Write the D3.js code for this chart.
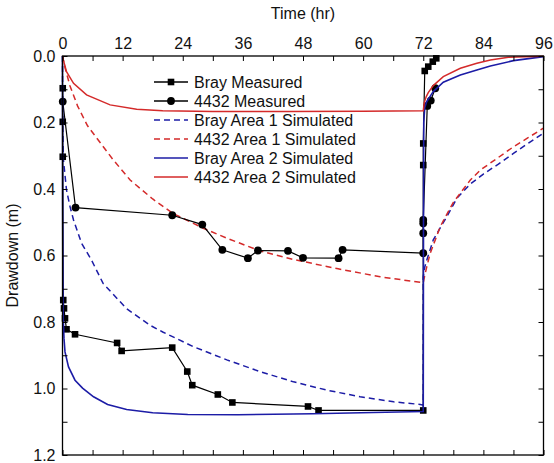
<!DOCTYPE html>
<html><head><meta charset="utf-8">
<script src="https://cdn.jsdelivr.net/npm/d3@7"></script>
<style>body{margin:0;background:#fff}svg{display:block}text{font-family:"Liberation Sans",Arial,sans-serif;fill:#111}</style>
</head><body><svg id="c" width="554" height="463"></svg>
<script>
// Data: [time (hr), drawdown (m)]
const xTicks = [0,12,24,36,48,60,72,84,96];
const yTicks = [0.0,0.2,0.4,0.6,0.8,1.0,1.2];
const seriesNames = ["Bray Measured","4432 Measured","Bray Area 1 Simulated","4432 Area 1 Simulated","Bray Area 2 Simulated","4432 Area 2 Simulated"];

const brayMeasured = [[0.05,0.097],[0.05,0.198],[0.05,0.303],[0.15,0.734],[0.3,0.759],[0.5,0.789],[0.8,0.822],[2.5,0.837],[10.9,0.863],[11.8,0.887],[21.9,0.877],[24.9,0.949],[25.9,0.99],[31.0,1.018],[33.9,1.042],[49.0,1.054],[51.1,1.066],[72.0,1.066],[72.0,0.328],[72.0,0.263],[72.3,0.045],[73.0,0.032],[73.9,0.017],[74.6,0.007]];
const m4432Measured = [[0.05,0.137],[2.6,0.456],[21.9,0.479],[27.9,0.507],[31.9,0.583],[37.0,0.608],[39.0,0.585],[45.0,0.586],[48.0,0.607],[55.1,0.608],[55.9,0.583],[72.0,0.593],[72.0,0.533],[72.0,0.503],[72.0,0.493],[72.8,0.150],[73.5,0.134],[74.4,0.097]];
const brayArea1 = [[0,0],[0.05,0.2],[0.17,0.31],[0.8,0.403],[1.5,0.453],[2.2,0.493],[3.8,0.563],[5.8,0.614],[8.1,0.684],[12.8,0.76],[17.5,0.81],[20,0.83],[26.1,0.874],[32.8,0.914],[39.4,0.949],[46.1,0.98],[52.8,1.005],[59.4,1.025],[66.1,1.04],[71.4,1.048],[72,1.05],[72,0.664],[72.3,0.635],[72.7,0.614],[74,0.553],[76.7,0.483],[78.7,0.428],[81.4,0.385],[84,0.355],[87,0.325],[90,0.293],[93,0.262],[96,0.232]];
const m4432Area1 = [[0,0],[0.5,0.035],[1.5,0.09],[3,0.15],[5,0.21],[8,0.27],[10,0.31],[13.5,0.373],[18,0.43],[22.1,0.474],[28.1,0.518],[32.8,0.548],[39.4,0.586],[46.1,0.612],[55,0.64],[63.4,0.664],[72,0.682],[72.3,0.66],[72.7,0.634],[73.4,0.593],[75.4,0.513],[78,0.44],[81.4,0.373],[83.4,0.343],[87,0.305],[90,0.273],[93,0.245],[96,0.217]];
const brayArea2 = [[0,0],[0.03,0.45],[0.08,0.68],[0.15,0.79],[0.3,0.85],[0.5,0.89],[1.2,0.935],[2.5,0.975],[4,0.999],[6.2,1.025],[9,1.048],[12.8,1.063],[18,1.073],[25,1.078],[35,1.079],[50,1.076],[62,1.072],[72,1.069],[72.05,0.5],[72.1,0.2],[72.3,0.155],[72.7,0.137],[74,0.107],[76,0.079],[79.4,0.057],[82.7,0.042],[85.4,0.03],[90,0.014],[96,0.002]];
const m4432Area2 = [[0,0],[0.17,0.012],[0.8,0.047],[2.2,0.082],[4.8,0.117],[9.5,0.147],[14.8,0.16],[20,0.165],[30,0.167],[45,0.167],[60,0.166],[72,0.165],[72.2,0.14],[72.6,0.122],[73,0.11],[74,0.089],[76,0.062],[79.4,0.037],[82.7,0.022],[85.4,0.012],[89,0.004],[96,0.001]];

(function(){
const svg = d3.select("#c");
const L=62.5, R=543.5, T=56, B=455;
const x = d3.scaleLinear().domain([0,96]).range([L,R]);
const y = d3.scaleLinear().domain([0,1.2]).range([T,B]);
const BLUE="#1c1ca6", RED="#d42a2a";
const FS="16px";

const line = d3.line().x(d=>x(d[0])).y(d=>y(d[1]));
const g = svg.append("g");

function path(data,color,dash,w){
  g.append("path").datum(data).attr("d",line).attr("fill","none")
   .attr("stroke",color).attr("stroke-width",w||1.5).attr("stroke-dasharray",dash||null);
}
path(brayArea1,BLUE,"6,4");
path(m4432Area1,RED,"6,4");
path(brayMeasured,"#000",null,1.2);
path(m4432Measured,"#000",null,1.2);
g.selectAll("rect.sq").data(brayMeasured).enter().append("rect").attr("class","sq")
 .attr("x",d=>x(d[0])-3.3).attr("y",d=>y(d[1])-3.3).attr("width",6.6).attr("height",6.6).attr("fill","#000");
g.selectAll("circle.ci").data(m4432Measured).enter().append("circle").attr("class","ci")
 .attr("cx",d=>x(d[0])).attr("cy",d=>y(d[1])).attr("r",3.9).attr("fill","#000");
path(brayArea2,BLUE,null,1.6);
path(m4432Area2,RED,null,1.5);

// axes
const axTop = d3.axisTop(x).tickValues(d3.range(0,97,6)).tickSize(-5).tickFormat(d=>xTicks.includes(d)?d:"");
const axBot = d3.axisBottom(x).tickValues(d3.range(0,97,6)).tickSize(-5).tickFormat("");
const axLeft = d3.axisLeft(y).tickValues(d3.range(0,13).map(i=>i/10)).tickSize(-5).tickFormat(d=>{const r=Math.round(d*10);return r%2===0?d3.format(".1f")(d):"";});
const axRight = d3.axisRight(y).tickValues(d3.range(0,13).map(i=>i/10)).tickSize(-5).tickFormat("");
function style(a){a.select(".domain").remove();a.selectAll("line").attr("stroke","#000").attr("stroke-width",1);a.selectAll("text").style("font-size",FS).attr("fill","#111");}
svg.append("g").attr("transform",`translate(0,${T})`).call(axTop).call(style).selectAll("text").attr("y",-7);
svg.append("g").attr("transform",`translate(0,${B})`).call(axBot).call(style);
svg.append("g").attr("transform",`translate(${L},0)`).call(axLeft).call(style).selectAll("text").attr("x",-7);
svg.append("g").attr("transform",`translate(${R},0)`).call(axRight).call(style);
svg.append("rect").attr("x",L).attr("y",T).attr("width",R-L).attr("height",B-T).attr("fill","none").attr("stroke","#000").attr("stroke-width",1.3);

svg.append("text").attr("x",(L+R)/2).attr("y",19).attr("text-anchor","middle").style("font-size",FS).text("Time (hr)");
svg.append("text").attr("transform",`translate(18,${(T+B)/2}) rotate(-90)`).attr("text-anchor","middle").style("font-size",FS).text("Drawdown (m)");

// legend
const styles = [
 {c:"#000",d:null,m:"sq"},{c:"#000",d:null,m:"ci"},{c:BLUE,d:"6,4"},{c:RED,d:"6,4"},{c:BLUE,d:null},{c:RED,d:null}];
const lg = svg.append("g");
seriesNames.forEach((n,i)=>{
  const yy = 82 + i*19;
  const s = styles[i];
  lg.append("line").attr("x1",154).attr("x2",188).attr("y1",yy).attr("y2",yy).attr("stroke",s.c).attr("stroke-width",1.5).attr("stroke-dasharray",s.d);
  if(s.m==="sq") lg.append("rect").attr("x",171-3.3).attr("y",yy-3.3).attr("width",6.6).attr("height",6.6).attr("fill","#000");
  if(s.m==="ci") lg.append("circle").attr("cx",171).attr("cy",yy).attr("r",3.9).attr("fill","#000");
  lg.append("text").attr("x",194).attr("y",yy).attr("dy","0.36em").style("font-size",FS).text(n);
});
})();
</script></body></html>
